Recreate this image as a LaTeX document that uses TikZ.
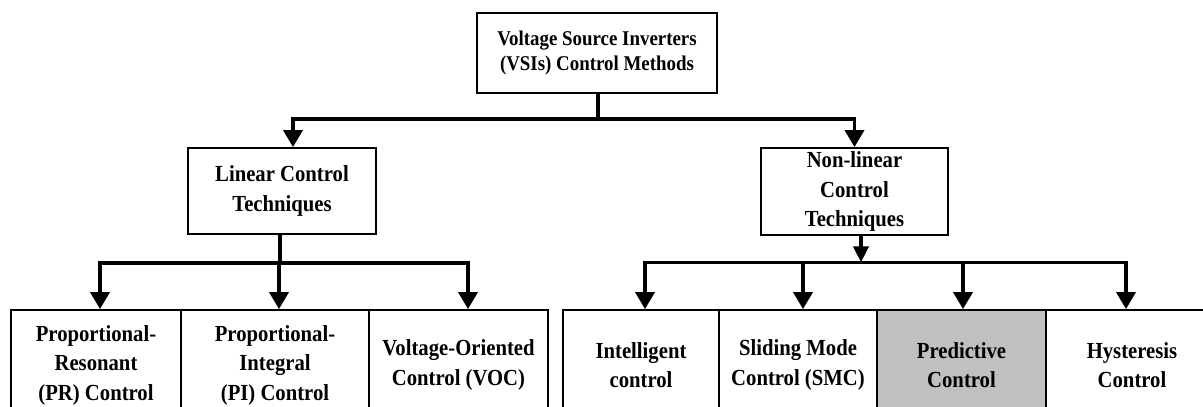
\documentclass[tikz,border=0pt]{standalone}
\usepackage{fontspec}
\setmainfont{Liberation Serif}[FakeStretch=0.9]
\usetikzlibrary{arrows.meta}
\definecolor{predgray}{RGB}{192,192,192}
\tikzset{
  box/.style={draw=black, line width=1.8pt, rectangle, inner sep=0pt, align=center,
    font=\bfseries\fontsize{23}{29.5}\selectfont},
  topbox/.style={box, font=\bfseries\fontsize{21}{25}\selectfont},
  leaf/.style={box, minimum height=110pt},
  wire/.style={line width=3.6pt},
  conn/.style={line width=3.6pt, -{Triangle[width=19pt,length=17pt]}},
  smallconn/.style={line width=3.6pt, -{Triangle[width=15pt,length=16pt]}},
}
\begin{document}
\begin{tikzpicture}[x=1pt,y=-1pt]
\useasboundingbox (0,0) rectangle (1203,407);
\begin{scope}
\clip (0,0) rectangle (1203,407);
% boxes
\node[topbox, minimum width=240pt, minimum height=80pt] (top) at (597,53)
  {Voltage Source Inverters\\(VSIs) Control Methods};
\node[box, minimum width=188pt, minimum height=86pt] (lin) at (282,191)
  {Linear Control\\Techniques};
\node[box, minimum width=187pt, minimum height=87pt] (non) at (854.5,191.5)
  {Non-linear\\Control\\Techniques};
\node[leaf, minimum width=170pt] (pr) at (96,365) {Proportional-\\Resonant\\(PR) Control};
\node[leaf, minimum width=188pt] (pi) at (275,365) {Proportional-\\Integral\\(PI) Control};
\node[leaf, minimum width=179pt] (voc) at (458.5,365) {Voltage-Oriented\\Control (VOC)};
\node[leaf, minimum width=156pt] (int) at (641,365) {Intelligent\\control};
\node[leaf, minimum width=158pt] (smc) at (798,365) {Sliding Mode\\Control (SMC)};
\node[leaf, minimum width=169pt, fill=predgray] (pred) at (961.5,365) {Predictive\\Control};
\node[leaf, minimum width=172pt] (hys) at (1132,365) {Hysteresis\\Control};
% top level connectors
\draw[wire] ([xshift=1pt]top.south) -- ++(0,25) coordinate (tj);
\draw[conn] (tj) -| ([xshift=11pt]lin.north);
\draw[conn] (tj) -| (non.north);
% linear branch
\draw[wire] ([xshift=-2pt]lin.south) -- ++(0,28) coordinate (lj);
\draw[conn] (lj) -| ([xshift=4pt]pr.north);
\draw[conn] (lj) -| ([xshift=4pt]pi.north);
\draw[conn] (lj) -| ([xshift=9.5pt]voc.north);
% non-linear branch
\draw[smallconn] ([xshift=6.5pt]non.south) -- ++(0,26.5) coordinate (nj);
\draw[conn] (nj) -| ([xshift=4pt]int.north);
\draw[conn] (nj) -| ([xshift=5pt]smc.north);
\draw[conn] (nj) -| ([xshift=1.5pt]pred.north);
\draw[conn] (nj) -| ([xshift=-6pt]hys.north);
\end{scope}
\end{tikzpicture}
\end{document}
